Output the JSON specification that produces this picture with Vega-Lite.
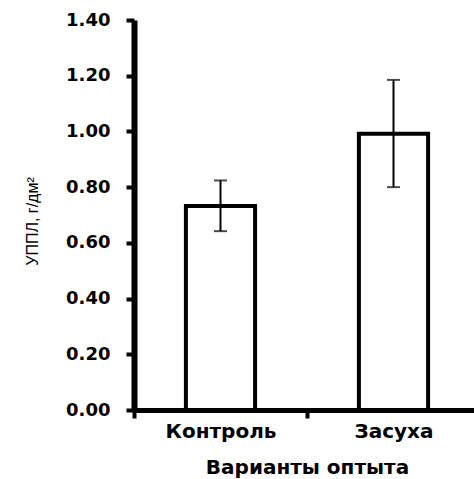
{
  "$schema": "https://vega.github.io/schema/vega-lite/v6.json",
  "autosize": {"type": "none"},
  "width": 346,
  "height": 390,
  "padding": {"left": 134, "top": 20, "right": 0, "bottom": 69},
  "background": "white",
  "config": {"view": {"stroke": null}},
  "data": {
    "values": [
      {"variant": "Контроль", "mean": 0.732, "lo": 0.642, "hi": 0.824},
      {"variant": "Засуха", "mean": 0.992, "lo": 0.800, "hi": 1.185}
    ]
  },
  "encoding": {
    "x": {
      "field": "variant",
      "type": "nominal",
      "sort": ["Контроль", "Засуха"],
      "scale": {"paddingInner": 0, "paddingOuter": 0},
      "axis": {
        "title": "Варианты оптыта",
        "labelAngle": 0,
        "labelFont": "DejaVu Sans",
        "labelFontWeight": "bold",
        "labelFontSize": 20,
        "labelColor": "black",
        "labelPadding": 3,
        "tickBand": "extent",
        "tickSize": 8,
        "tickWidth": 4,
        "tickColor": "black",
        "domainColor": "black",
        "domainWidth": 5,
        "titleFont": "DejaVu Sans",
        "titleFontWeight": "bold",
        "titleFontSize": 20,
        "titleColor": "black",
        "titlePadding": 16,
        "grid": false
      }
    }
  },
  "layer": [
    {
      "mark": {"type": "bar", "fill": "white", "stroke": "black", "strokeWidth": 4, "width": {"band": 0.4}},
      "encoding": {
        "y": {
          "field": "mean",
          "type": "quantitative",
          "title": "УППЛ, г/дм²",
          "scale": {"domain": [0, 1.4], "nice": false},
          "axis": {
            "values": [0, 0.2, 0.4, 0.6, 0.8, 1.0, 1.2, 1.4],
            "format": ".2f",
            "labelFont": "DejaVu Sans",
            "labelFontWeight": "bold",
            "labelFontSize": 18,
            "labelColor": "black",
            "labelPadding": 16,
            "tickSize": 8,
            "tickWidth": 4,
            "tickColor": "black",
            "domainColor": "black",
            "domainWidth": 6,
            "grid": false,
            "titleFont": "Liberation Sans",
            "titleFontWeight": "normal",
            "titleFontSize": 16,
            "titleColor": "black",
            "titleAngle": -90,
            "titleX": -97,
            "titleY": 201,
            "titleAlign": "center",
            "titleBaseline": "alphabetic"
          }
        }
      }
    },
    {
      "mark": {
        "type": "errorbar",
        "ticks": {"size": 13, "thickness": 2, "color": "black"},
        "rule": {"strokeWidth": 2, "color": "black"}
      },
      "encoding": {
        "y": {"field": "lo", "type": "quantitative", "title": "УППЛ, г/дм²"},
        "y2": {"field": "hi"}
      }
    }
  ]
}
